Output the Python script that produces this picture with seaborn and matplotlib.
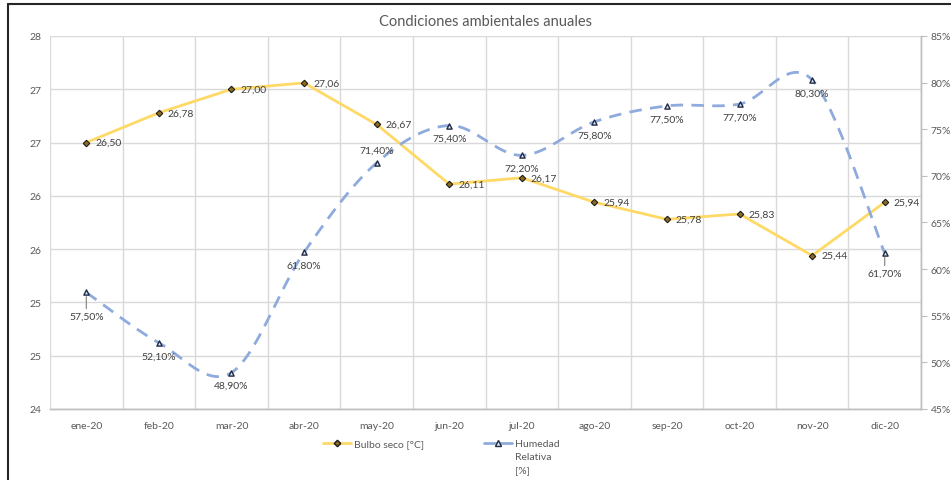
import math
import numpy as np
import pandas as pd
import matplotlib
matplotlib.use("Agg")
import matplotlib.pyplot as plt
from matplotlib.lines import Line2D
from matplotlib.ticker import FixedLocator, FuncFormatter
import seaborn as sns

months = ["ene-20", "feb-20", "mar-20", "abr-20", "may-20", "jun-20",
          "jul-20", "ago-20", "sep-20", "oct-20", "nov-20", "dic-20"]
bulbo_seco = [26.50, 26.78, 27.00, 27.06, 26.67, 26.11,
              26.17, 25.94, 25.78, 25.83, 25.44, 25.94]
humedad = [57.5, 52.1, 48.9, 61.8, 71.4, 75.4,
           72.2, 75.8, 77.5, 77.7, 80.3, 61.7]

title = "Condiciones ambientales anuales"
label_bulbo = "Bulbo seco [°C]"
label_humedad = "Humedad\nRelativa\n[%]"

sns.set_theme(style="white")
plt.rcParams["font.family"] = ["Lato", "DejaVu Sans"]

TXT = "#595959"
GRID = "#D9D9D9"
YELLOW = "#FFD966"
BLUE = "#8FAADC"

fig = plt.figure(figsize=(9.51, 4.81), dpi=100)
ax = fig.add_axes([50 / 951, 71 / 481, 871 / 951, 373 / 481])
ax2 = ax.twinx()

x = np.arange(len(months))
df = pd.DataFrame({"mes": x, "bulbo": bulbo_seco, "hum": humedad})


def smooth_curve(xv, yv, steps=40):
    """Cardinal (Catmull-Rom) Bezier smoothing, as used by spreadsheet charts."""
    pts = np.column_stack([xv, yv]).astype(float)
    n = len(pts)
    out = []
    for i in range(n - 1):
        p0 = pts[max(i - 1, 0)]
        p1 = pts[i]
        p2 = pts[i + 1]
        p3 = pts[min(i + 2, n - 1)]
        c1 = p1 + (p2 - p0) / 6.0
        c2 = p2 - (p3 - p1) / 6.0
        t = np.linspace(0, 1, steps)[:, None]
        seg = ((1 - t) ** 3) * p1 + 3 * ((1 - t) ** 2) * t * c1 \
            + 3 * (1 - t) * t ** 2 * c2 + t ** 3 * p2
        out.append(seg if i == 0 else seg[1:])
    c = np.vstack(out)
    return c[:, 0], c[:, 1]


D_FACE = "#8C6D1F"
D_EDGE = "#1a1a1a"
T_FACE = "#DCE6F2"
T_EDGE = "#1F2A44"

# Temperature series: straight segments with diamond markers
sns.lineplot(data=df, x="mes", y="bulbo", ax=ax, color=YELLOW, lw=2.0,
             marker="D", markersize=3.3, markerfacecolor=D_FACE,
             markeredgecolor=D_EDGE, markeredgewidth=0.8, zorder=3)

# Humidity series: smoothed dashed curve with triangle markers
sx, sy = smooth_curve(x, humedad)
sns.lineplot(x=sx, y=sy, ax=ax2, sort=False, color=BLUE, lw=2.0,
             linestyle=(0, (4.5, 3)), zorder=3)
sns.scatterplot(data=df, x="mes", y="hum", ax=ax2, marker="^", s=14,
                color=T_FACE, edgecolor=T_EDGE, linewidth=1.0, zorder=4)

# Axis ranges and ticks
ax.set_xlim(-0.5, len(months) - 0.5)
ax.set_ylim(24, 27.5)
ax2.set_ylim(45, 85)

ax.set_xticks(x)
ax.set_xticklabels(months)
ax.xaxis.set_minor_locator(FixedLocator(np.arange(-0.5, len(months), 1.0)))
ax.set_yticks(np.arange(24, 27.51, 0.5))
ax.yaxis.set_major_formatter(FuncFormatter(lambda v, p: f"{int(math.floor(v + 0.5))}"))
ax2.set_yticks(np.arange(45, 85.1, 5))
ax2.yaxis.set_major_formatter(FuncFormatter(lambda v, p: f"{v:.0f}%"))

ax.grid(True, axis="y", which="major", color=GRID, lw=1.0)
ax.grid(True, axis="x", which="minor", color=GRID, lw=1.0)
ax.grid(False, axis="x", which="major")
ax.set_axisbelow(True)

ax.tick_params(axis="x", which="both", length=0, labelsize=7.5, colors=TXT, pad=9)
ax.tick_params(axis="y", length=0, labelsize=7.5, colors=TXT, pad=6)
ax2.tick_params(axis="y", length=4, width=0.8, color="#BFBFBF",
                labelsize=7.5, labelcolor=TXT, pad=3)
ax.set_xlabel("")
ax.set_ylabel("")
ax2.set_xlabel("")
ax2.set_ylabel("")

for a in (ax, ax2):
    for s in ("top", "left"):
        a.spines[s].set_visible(False)
    a.spines["bottom"].set_color("#BFBFBF")
    a.spines["right"].set_color("#BFBFBF")
    a.spines["right"].set_linewidth(1.0)
    a.spines["bottom"].set_linewidth(1.0)

# Data labels
LBL = "#404040"
for xi, v in zip(x, bulbo_seco):
    ax.annotate(f"{v:.2f}".replace(".", ","), (xi, v), xytext=(9, 0),
                textcoords="offset pixels", ha="left", va="center",
                fontsize=7.5, color=LBL, zorder=5)

hum_offsets = {0: (0, -24), 4: (0, 13), 11: (0, -20)}
for xi, v in zip(x, humedad):
    dx, dy = hum_offsets.get(xi, (0, -13))
    lead = dict(arrowstyle="-", color="#7F7F7F", lw=0.8,
                shrinkA=0, shrinkB=3) if xi in (0, 11) else None
    ax2.annotate(f"{v:.2f}%".replace(".", ","), (xi, v), xytext=(dx, dy),
                 textcoords="offset pixels", ha="center", va="center",
                 fontsize=7.5, color=LBL, zorder=5, arrowprops=lead)

ax.set_title(title, fontsize=10.5, color=TXT, pad=8)

# Legend entries below the plot
h_b = Line2D([], [], color=YELLOW, lw=2, marker="D", markersize=3.3,
             markerfacecolor=D_FACE, markeredgecolor=D_EDGE)
h_h = Line2D([], [], color=BLUE, lw=2, marker="^", markersize=4.5,
             markerfacecolor=T_FACE, markeredgecolor=T_EDGE)
hum_lines = label_humedad.split("\n")
leg1 = fig.legend([h_b], [label_bulbo], loc="upper left",
                  bbox_to_anchor=(318 / 951, 1 - 435 / 481), frameon=False,
                  fontsize=7.5, handlelength=2.7, handletextpad=0.3,
                  borderpad=0, labelcolor=TXT)
leg2 = fig.legend([h_h], [hum_lines[0]], loc="upper left",
                  bbox_to_anchor=(479 / 951, 1 - 435 / 481), frameon=False,
                  fontsize=7.5, handlelength=2.7, handletextpad=0.3,
                  borderpad=0, labelcolor=TXT)
fig.canvas.draw()
r = fig.canvas.get_renderer()
tb = leg2.get_texts()[0].get_window_extent(r)
fig.text(tb.x0 / fig.bbox.width, (tb.y0 - 13) / fig.bbox.height,
         hum_lines[1], fontsize=7.5, color=TXT, ha="left", va="bottom")
fig.text(tb.x0 / fig.bbox.width, (tb.y0 - 26) / fig.bbox.height,
         hum_lines[2], fontsize=7.5, color=TXT, ha="left", va="bottom")

# Outer frame edges (top and left)
fig.add_artist(Line2D([8 / 951, 8 / 951], [0, 1 - 5 / 481],
                      transform=fig.transFigure, color="#262626", lw=1.5))
fig.add_artist(Line2D([8 / 951, 1], [1 - 5 / 481, 1 - 5 / 481],
                      transform=fig.transFigure, color="#262626", lw=1.5))

fig.savefig("out.png", dpi=100, facecolor="white")
